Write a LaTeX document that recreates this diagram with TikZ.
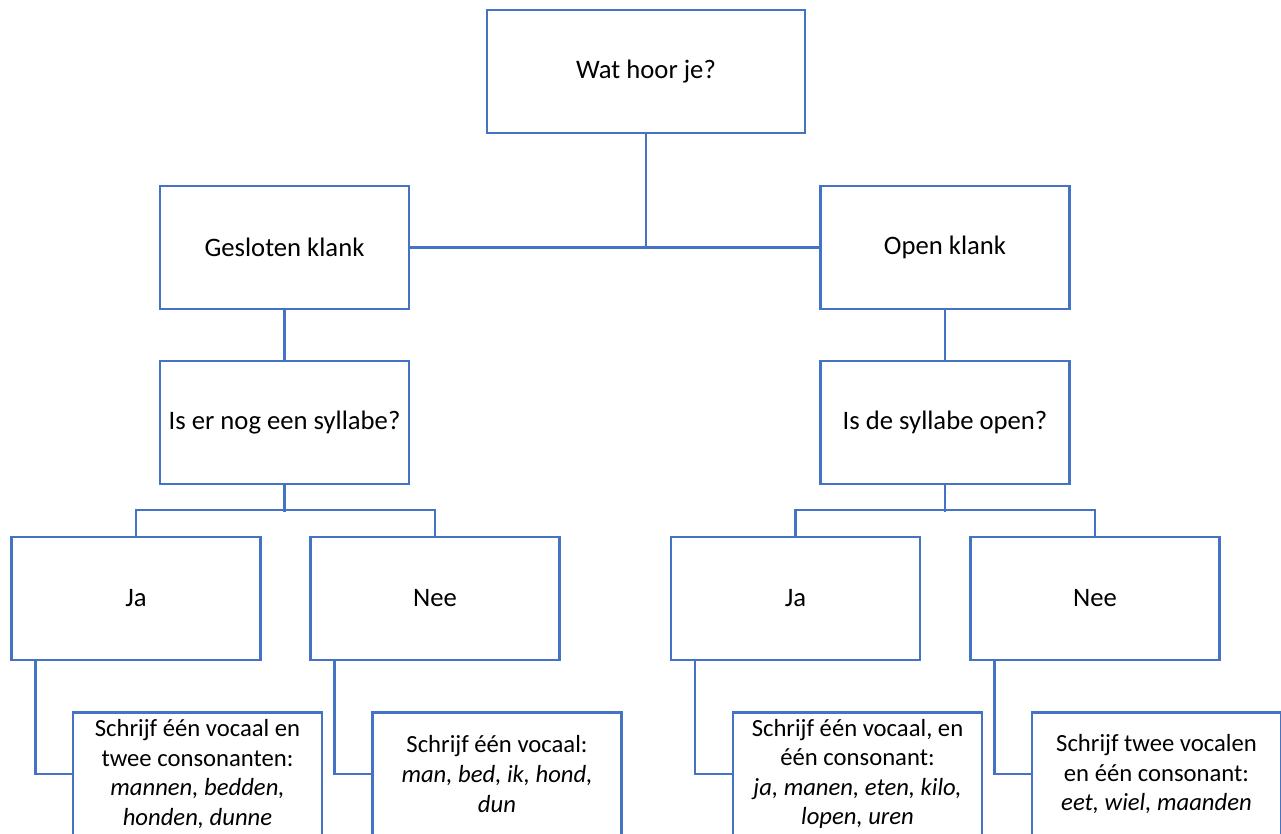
\documentclass[tikz,border=0pt]{standalone}
\usepackage{fontspec}
\setmainfont{Carlito}
\usepackage{tikz}
\definecolor{boxblue}{RGB}{68,114,196}

\begin{document}
\begin{tikzpicture}[x=0.75pt,y=-0.75pt,
    box/.style={draw=boxblue,line width=1.6pt,fill=white,minimum width=249*0.75pt,
      minimum height=123*0.75pt,inner sep=0pt,align=center,
      font=\fontsize{20}{24}\selectfont},
    rule/.style={box,font=\fontsize{18.5}{22.2}\selectfont},
    link/.style={draw=boxblue,line width=1.6pt}]
    \useasboundingbox (0,0) rectangle (1281,833);
    \clip (0,0) rectangle (1281,833);
    % top and second row
    \node[box,minimum width=318*0.75pt] (hoor) at (646,71.5) {Wat hoor je?};
    \node[box] (gesl) at (284.5,247.5) {Gesloten klank};
    \node[box] (open) at (945,247.5) {Open klank};
    \node[box] (isern) at (284.5,422.5) {Is er nog een syllabe?};
    \node[box] (isde) at (945,422.5) {Is de syllabe open?};
    % ja / nee
    \node[box] (jal) at (136,598.5) {Ja};
    \node[box] (neel) at (435,598.5) {Nee};
    \node[box] (jar) at (795.5,598.5) {Ja};
    \node[box] (neer) at (1095,598.5) {Nee};
    % rules
    \node[rule] (schrjal) at (197.5,774) {Schrijf één vocaal en\\twee consonanten:\\
      \textit{mannen, bedden,}\\\textit{honden, dunne}};
    \node[rule] (schrneel) at (497,774) {Schrijf één vocaal:\\
      \textit{man, bed, ik, hond,}\\\textit{dun}};
    \node[rule] (schrjar) at (857.5,774) {Schrijf één vocaal, en\\één consonant:\\
      \textit{ja, manen, eten, kilo,}\\\textit{lopen, uren}};
    \node[rule] (schrneer) at (1156.5,774) {Schrijf twee vocalen\\en één consonant:\\
      \textit{eet, wiel, maanden}};

    \path[link] (gesl.east) -- (open.west);
    \path[link] (hoor.south) -- (hoor.south |- gesl.east);
    \path[link] (gesl.south) -- (isern.north);
    \path[link] (open.south) -- (isde.north);
    \path[link] (isern.south) -- ++(0,26.5);
    \path[link] (jal.north) -- ++(0,-26) -| (neel.north);
    \path[link] (isde.south) -- ++(0,26.5);
    \path[link] (jar.north) -- ++(0,-26) -| (neer.north);
    \path[link] (jal.south west) ++(25,0) |- (schrjal.west);
    \path[link] (neel.south west) ++(25,0) |- (schrneel.west);
    \path[link] (jar.south west) ++(25,0) |- (schrjar.west);
    \path[link] (neer.south west) ++(25,0) |- (schrneer.west);
\end{tikzpicture}
\end{document}
